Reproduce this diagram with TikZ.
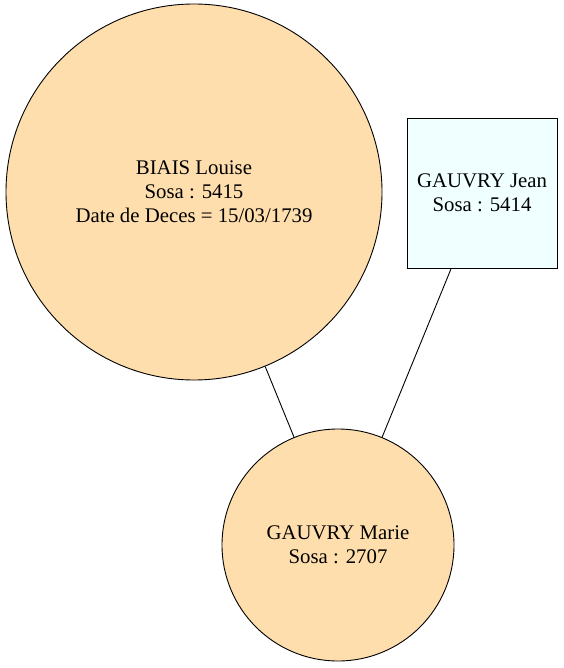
\documentclass[tikz,border=0pt]{standalone}
\usepackage{fontspec}
\setmainfont{Liberation Serif}
\usepackage{xcolor}
\usepackage{tikz}
\usetikzlibrary{positioning}
\definecolor{peach}{HTML}{FFDEAD}
\definecolor{azure}{HTML}{F0FFFF}

\begin{document}
\begin{tikzpicture}[x=1pt, y=-1pt, line width=0.9pt,
    person/.style={circle, draw, fill=peach, inner sep = 0pt, align=center,
      font=\fontsize{20.8}{24}\selectfont},
    father/.style={rectangle, draw, fill=azure, inner sep = 0pt, align=center,
      minimum size=150pt, font=\fontsize{20.8}{24}\selectfont}]
    \useasboundingbox (0,0) rectangle (563,668);
    \node(L) at (194,192) [person, minimum size=376pt] {BIAIS Louise\\Sosa : 5415\\Date de Deces = 15/03/1739};
    \node(J) at (482,193) [father] {GAUVRY Jean\\Sosa : 5414};
    \node(M) at (338,545) [person, minimum size=232pt] {GAUVRY Marie\\Sosa : 2707}
      edge [-, ] (L)
      edge [-, ] (J)
      ;
  \end{tikzpicture}
\end{document}
